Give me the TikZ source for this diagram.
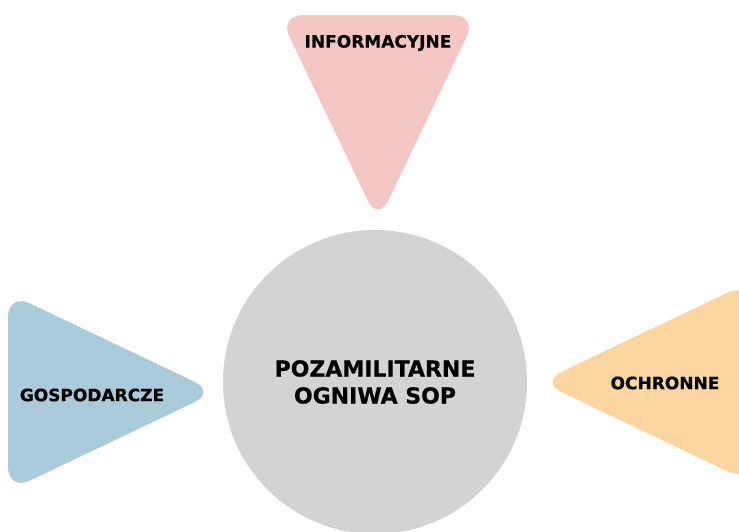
\documentclass[tikz,border=0pt]{standalone}
\usepackage{fontspec}
\setmainfont{DejaVu Sans}
% heavier bold face for the labels
\newfontfamily\heavyfont[FakeBold=0.6]{DejaVu Sans Bold}
\definecolor{infopink}{RGB}{244,199,195}
\definecolor{econblue}{RGB}{170,204,218}
\definecolor{guardorange}{RGB}{251,214,161}
\definecolor{hubgray}{RGB}{211,211,211}
\begin{document}
\begin{tikzpicture}[x=1pt,y=-1pt,
  petal/.style={rounded corners=24pt},
  lbl/.style={font=\heavyfont\fontsize{17}{20}\selectfont, text=black, inner sep=0pt},
  hub/.style={circle, fill=hubgray, minimum size=304pt, inner sep=0pt,
    font=\heavyfont\fontsize{22}{27}\selectfont, align=center, text=black}]
\useasboundingbox (0,0) rectangle (739,531);
\clip (0,0) rectangle (739,531);
% three rounded triangles pointing at the centre
\fill[infopink, petal] (279,15) -- (477,15) -- (378,222) -- cycle;
\fill[econblue, petal] (8,293) -- (216,392) -- (8,491) -- cycle;
\fill[guardorange, petal] (750,282) -- (540,382) -- (750,482) -- cycle;
% central circle
\node[hub] (hub) at (375,382) {POZAMILITARNE\\OGNIWA SOP};
% labels
\node[lbl] (info) at (378,43) {INFORMACYJNE};
\node[lbl] (econ) at (92,395) {GOSPODARCZE};
\node[lbl] (guard) at (665,383) {OCHRONNE};
\end{tikzpicture}
\end{document}
